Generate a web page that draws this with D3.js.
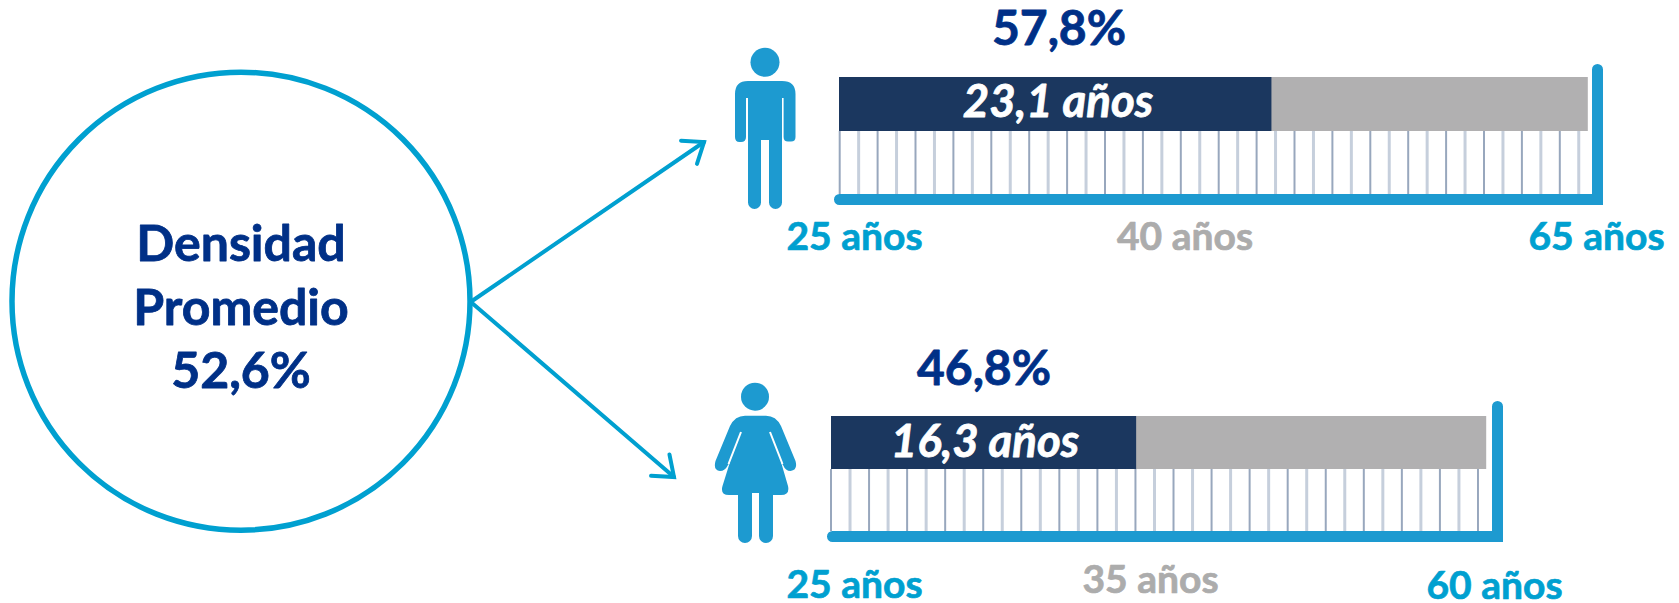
<!DOCTYPE html>
<html><head><meta charset="utf-8">
<script src="https://cdn.jsdelivr.net/npm/d3@7"></script>
<style>html,body{margin:0;background:#fff}svg{display:block}text{font-family:Lato,Carlito,sans-serif;font-weight:700;stroke-linejoin:round}</style>
</head><body><svg id="c" width="1679" height="603"></svg>
<script>
const groupNames = ["hombre","mujer"];
const startAges = [25,25];
const endAges = [65,60];
const yearsValues = [23.1,16.3];
const yearsLabels = ["23,1 años","16,3 años"];
const densityLabels = ["57,8%","46,8%"];
const ageLabels = [["25 años","40 años","65 años"],["25 años","35 años","60 años"]];
const centerLines = ["Densidad","Promedio","52,6%"];

const NAVY="#003087", BLUE="#00a0d0", ICON="#1d9ad0", DARK="#1b375f", GRAY="#b1b0b1";
const layouts = [
 {x0:839,pxPerYear:18.72,gridX0:839.7,gridX1:1597.7,top:77,barB:131,base:194,baseB:205,baseL:834,wallR:1603,wallT:64,
  pct:[1059,45],yrs:[1058,117],labels:[[854.5,250],[1185,250],[1596.5,250]]},
 {x0:831,pxPerYear:18.72,gridX0:831,gridX1:1497,top:416,barB:469,base:531,baseB:542,baseL:827,wallR:1503,wallT:401,
  pct:[984,385],yrs:[985,457],labels:[[854.5,598],[1150.5,593],[1494.5,599]]}
];

const svg=d3.select("#c");
const boldText=(sel,color,w)=>sel.attr("fill",color).attr("stroke",color).attr("stroke-width",w);

svg.append("circle").attr("cx",241).attr("cy",301.2).attr("r",229).attr("fill","#fff").attr("stroke",BLUE).attr("stroke-width",5.5);
const arrow=(x1,y1,x2,y2)=>{
  const g=svg.append("g").attr("fill","none").attr("stroke",BLUE).attr("stroke-width",4).attr("stroke-linecap","round").attr("stroke-linejoin","miter");
  g.append("path").attr("d",d3.line()([[x1,y1],[x2,y2]]));
  const a=Math.atan2(y2-y1,x2-x1),L=23,s=0.66;
  g.append("path").attr("d",d3.line()([[x2-L*Math.cos(a-s),y2-L*Math.sin(a-s)],[x2,y2],[x2-L*Math.cos(a+s),y2-L*Math.sin(a+s)]]));
};
arrow(472,301,704,142);
arrow(472,303,674,477);

const ct=svg.append("g").attr("text-anchor","middle").style("font-size","50px");
boldText(ct,NAVY,0.8);
ct.selectAll("text").data(centerLines).join("text").attr("x",241).attr("y",(d,i)=>261+i*63.5).text(d=>d);

groupNames.forEach((name,i)=>{
  const L=layouts[i], g=svg.append("g").attr("class",name);
  const yearsSpan=endAges[i]-startAges[i];
  const bar=d3.scaleLinear().domain([startAges[i],endAges[i]]).range([L.x0,L.x0+L.pxPerYear*yearsSpan]);
  const grid=d3.scaleLinear().domain([startAges[i],endAges[i]]).range([L.gridX0,L.gridX1]);
  const tickAges=d3.range(startAges[i],endAges[i]);
  g.selectAll("line.t").data(tickAges).join("line").attr("class","t")
    .attr("x1",d=>grid(d)).attr("x2",d=>grid(d)).attr("y1",L.barB).attr("y2",L.base)
    .attr("stroke",(d,k)=>k%2?"#c6cfdc":"#98a7bd").attr("stroke-width",(d,k)=>k%2?3:2);
  g.append("rect").attr("x",bar(startAges[i])).attr("y",L.top).attr("width",bar(endAges[i])-bar(startAges[i])).attr("height",L.barB-L.top).attr("fill",GRAY);
  g.append("rect").attr("x",bar(startAges[i])).attr("y",L.top).attr("width",bar(startAges[i]+yearsValues[i])-bar(startAges[i])).attr("height",L.barB-L.top).attr("fill",DARK);
  const r=(L.baseB-L.base)/2;
  g.append("path").attr("fill",ICON).attr("d",
    `M${L.baseL+r},${L.base}H${L.wallR-11}V${L.wallT+5.5}A5.5,5.5 0 0 1 ${L.wallR},${L.wallT+5.5}V${L.baseB}H${L.baseL+r}A${r},${r} 0 0 1 ${L.baseL+r},${L.base}Z`);
  boldText(g.append("text").attr("x",L.pct[0]).attr("y",L.pct[1]).attr("text-anchor","middle").style("font-size","48px").text(densityLabels[i]),NAVY,0.8);
  boldText(g.append("text").attr("x",L.yrs[0]).attr("y",L.yrs[1]).attr("text-anchor","middle").style("font-size","45.5px").style("font-style","italic").text(yearsLabels[i]),"#fff",0.8);
  g.selectAll("text.a").data(ageLabels[i]).join("text").attr("class","a")
    .attr("x",(d,k)=>L.labels[k][0]).attr("y",(d,k)=>L.labels[k][1]).attr("text-anchor","middle")
    .attr("fill",(d,k)=>k==1?"#acacac":BLUE).attr("stroke",(d,k)=>k==1?"#acacac":BLUE).attr("stroke-width",0.7)
    .style("font-size","39px").text(d=>d);
});
// icons
const man=svg.append("g").attr("fill",ICON);
man.append("circle").attr("cx",765).attr("cy",62.3).attr("r",14.5);
man.append("path").attr("d","M748,81H782Q795.5,81 795.5,94V137Q795.5,141.5 791,141.5H788Q783.6,141.5 783.6,137V98H782V202.5A6.5,6.5 0 0 1 769,202.5V140H761V202.5A6.5,6.5 0 0 1 748,202.5V98H746V137Q746,142 741,142H739.5Q735,142 735,137V94Q735,81 748,81Z");
const wom=svg.append("g").attr("fill",ICON);
wom.append("circle").attr("cx",755).attr("cy",396.7).attr("r",14);
wom.append("path").attr("d","M745,415.7H766Q776,415.7 781,426L795.5,461Q798,470 790.5,471Q785.5,471 783,465L781,462L788,486Q790,495 781,495H773V536A7,7 0 0 1 759,536V493H752V536A7,7 0 0 1 738,536V495H729Q720,495 722.5,486L730,462L728,465Q725,471 720,471Q713,470 715.5,461L730,426Q735,415.7 745,415.7Z");
wom.append("path").attr("fill","none").attr("stroke","#fff").attr("stroke-width",2).attr("d","M741,432L728.5,464M770,432L782.5,464");
</script></body></html>
